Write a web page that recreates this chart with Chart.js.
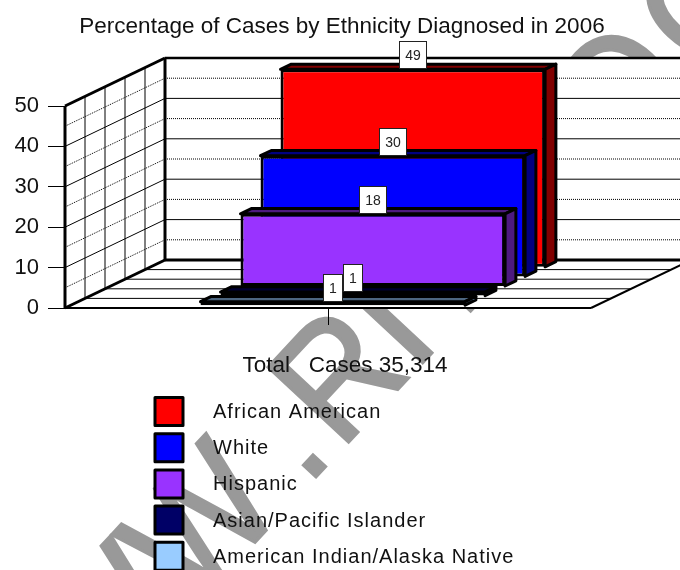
<!DOCTYPE html>
<html>
<head>
<meta charset="utf-8">
<title>Percentage of Cases by Ethnicity</title>
<script src="https://cdn.jsdelivr.net/npm/chart.js@4"></script>
<style>
  html, body { margin: 0; padding: 0; background: #fff; overflow: hidden; }
  canvas { display: block; }
</style>
</head>
<body>
<canvas id="chart" width="680" height="570"></canvas>
<script>
const titleText = 'Percentage of Cases by Ethnicity Diagnosed in 2006';
const categories = ['Total   Cases 35,314'];
const seriesNames = ['African American', 'White', 'Hispanic', 'Asian/Pacific Islander', 'American Indian/Alaska Native'];
const seriesValues = [49, 30, 18, 1, 1];
const yTicks = [0, 10, 20, 30, 40, 50];

const faceColors = ['#ff0000', '#0000ff', '#9933ff', '#000066', '#99ccff'];
const shadeColors = ['#800000', '#000080', '#4d1a80', '#000033', '#4d6680'];

const FONT = '"Liberation Sans", Arial, sans-serif';

// fake 3D: the plot box goes back 100px and up 48px, one slot per series
const WALL_DX = 100;
const WALL_DY = -48;
const SLOTS = seriesNames.length;
const BAR_START = 0.24;  // where the bar starts inside its slot
const BAR_DEPTH = 0.54;

function depth(slots) {
    const dx = slots * WALL_DX / SLOTS;
    return { dx: dx, dy: dx * WALL_DY / WALL_DX };
}

function poly(ctx, pts, fill, stroke, width) {
    ctx.beginPath();
    pts.forEach((p, i) => i ? ctx.lineTo(p[0], p[1]) : ctx.moveTo(p[0], p[1]));
    ctx.closePath();
    if (fill) { ctx.fillStyle = fill; ctx.fill(); }
    if (stroke) { ctx.strokeStyle = stroke; ctx.lineWidth = width; ctx.stroke(); }
}

function line(ctx, x1, y1, x2, y2, width, dash) {
    ctx.beginPath();
    ctx.setLineDash(dash || []);
    ctx.lineWidth = width;
    ctx.strokeStyle = '#000';
    ctx.moveTo(x1, y1);
    ctx.lineTo(x2, y2);
    ctx.stroke();
    ctx.setLineDash([]);
}

// grey rotated lettering behind everything; the middle letters sit behind the plot
// and can't be read, only their outer bits show. offsets are along / across the baseline
const watermarkPieces = [['WWW', -501, 0], ['.', -53, 0], ['RI', -4, 0], ['M', 175, 0], ['T', 297, 0], ['O', 390, 12], ['C', 516, 12]];

const watermark = {
    id: 'watermark',
    beforeDraw(chart) {
        const ctx = chart.ctx;
        ctx.save();
        ctx.translate(343, 448);
        ctx.rotate(-47 * Math.PI / 180);
        ctx.scale(1, 1.08);
        ctx.font = '148px ' + FONT;
        ctx.fillStyle = '#999999';
        ctx.strokeStyle = '#999999';
        ctx.lineWidth = 3;
        ctx.lineJoin = 'miter';
        ctx.textBaseline = 'alphabetic';
        ctx.textAlign = 'left';
        watermarkPieces.forEach(piece => {
            ctx.fillText(piece[0], piece[1], piece[2]);
            ctx.strokeText(piece[0], piece[1], piece[2]);
        });
        ctx.restore();
    }
};

const walls = {
    id: 'walls',
    beforeDatasetsDraw(chart) {
        const ctx = chart.ctx;
        const y = chart.scales.y;
        const a = chart.chartArea;
        const L = a.left, R = a.right;
        const y0 = y.getPixelForValue(0);
        const yMax = y.getPixelForValue(yTicks[yTicks.length - 1]);
        const dx = WALL_DX, dy = WALL_DY;

        ctx.save();
        ctx.lineJoin = 'miter';
        poly(ctx, [[L + dx, yMax + dy], [R + dx, yMax + dy], [R + dx, y0 + dy], [L + dx, y0 + dy]], '#fff');
        poly(ctx, [[L, yMax], [L + dx, yMax + dy], [L + dx, y0 + dy], [L, y0]], '#fff');
        poly(ctx, [[L, y0], [L + dx, y0 + dy], [R + dx, y0 + dy], [R, y0]], '#fff');

        // gridlines on back and side wall
        yTicks.forEach((t, i) => {
            const py = y.getPixelForValue(t);
            if (i > 0 && i < yTicks.length - 1) {
                line(ctx, L, py, L + dx, py + dy, 1);
                line(ctx, L + dx, py + dy, R + dx, py + dy, 1);
            }
            if (i < yTicks.length - 1) {
                const mid = y.getPixelForValue((t + yTicks[i + 1]) / 2);
                line(ctx, L, mid, L + dx, mid + dy, 1, [1, 1]);
                line(ctx, L + dx, mid + dy, R + dx, mid + dy, 1, [1, 1]);
            }
        });

        // slot lines on floor and side wall
        for (let s = 1; s < SLOTS; s++) {
            const d = depth(s);
            line(ctx, L + d.dx, yMax + d.dy, L + d.dx, y0 + d.dy, 1);
            line(ctx, L + d.dx, y0 + d.dy, R + d.dx, y0 + d.dy, 1);
        }

        // box edges
        line(ctx, L + dx, yMax + dy, R + dx, yMax + dy, 2.5);
        line(ctx, L + dx, yMax + dy, L + dx, y0 + dy, 3);
        line(ctx, L + dx, y0 + dy, R + dx, y0 + dy, 3);
        line(ctx, L, yMax, L + dx, yMax + dy, 3);
        line(ctx, L, yMax, L, y0, 3);
        line(ctx, L, y0, L + dx, y0 + dy, 3);
        line(ctx, L, y0, R, y0, 2);
        line(ctx, R, y0, R + dx, y0 + dy, 2);
        ctx.restore();
    }
};

// each bar is moved to its slot, the library then draws the front face there
const bars3d = {
    id: 'bars3d',
    beforeDatasetDraw(chart, args) {
        const ctx = chart.ctx;
        const i = args.index;
        const slot = depth(SLOTS - 1 - i + BAR_START);
        const side = depth(BAR_DEPTH);
        ctx.save();
        ctx.translate(slot.dx, slot.dy);
        ctx.lineJoin = 'round';
        args.meta.data.forEach(el => {
            const p = el.getProps(['x', 'y', 'base', 'width'], true);
            const l = p.x - p.width / 2, r = p.x + p.width / 2;
            poly(ctx, [[l, p.y], [l + side.dx, p.y + side.dy], [r + side.dx, p.y + side.dy], [r, p.y]], shadeColors[i], '#000', 3);
            poly(ctx, [[r, p.y], [r + side.dx, p.y + side.dy], [r + side.dx, p.base + side.dy], [r, p.base]], shadeColors[i], '#000', 3);
        });
    },
    afterDatasetDraw(chart) {
        chart.ctx.restore();
    },
    afterDatasetsDraw(chart) {
        const ctx = chart.ctx;
        ctx.save();
        ctx.font = '14px ' + FONT;
        ctx.textAlign = 'center';
        ctx.textBaseline = 'middle';
        seriesNames.forEach((name, i) => {
            const slot = depth(SLOTS - 1 - i + BAR_START);
            const el = chart.getDatasetMeta(i).data[0];
            const p = el.getProps(['x', 'y'], true);
            const text = String(seriesValues[i]);
            const w = Math.round(ctx.measureText(text).width + 11);
            const h = 27;
            const x = Math.round(p.x + slot.dx - w / 2 - 0.5) + 0.5;
            const y = Math.round(p.y + slot.dy - h - 1) + 0.5;
            ctx.fillStyle = '#fff';
            ctx.strokeStyle = '#222';
            ctx.lineWidth = 1;
            ctx.fillRect(x, y, w, h);
            ctx.strokeRect(x, y, w, h);
            ctx.fillStyle = '#222';
            ctx.fillText(text, x + w / 2, y + h / 2 + 1);
        });
        ctx.restore();
    }
};

// legend is a plain column below the plot and runs off the bottom of the page
const legendColumn = {
    id: 'legendColumn',
    afterDraw(chart) {
        const ctx = chart.ctx;
        ctx.save();
        ctx.font = '20px ' + FONT;
        ctx.letterSpacing = '1px';
        ctx.textBaseline = 'middle';
        ctx.textAlign = 'left';
        seriesNames.forEach((name, i) => {
            const top = 397.5 + i * 36.2;
            ctx.lineJoin = 'round';
            ctx.fillStyle = faceColors[i];
            ctx.strokeStyle = '#000';
            ctx.lineWidth = 3;
            ctx.fillRect(155, top, 28, 28);
            ctx.strokeRect(155, top, 28, 28);
            ctx.fillStyle = '#111';
            ctx.fillText(name, 213, top + 15);
        });
        ctx.restore();
    }
};

new Chart(document.getElementById('chart'), {
    type: 'bar',
    data: {
        labels: categories,
        datasets: seriesNames.map((name, i) => ({
            label: name,
            data: [seriesValues[i]],
            backgroundColor: faceColors[i],
            borderColor: '#000',
            borderWidth: 3,
            borderSkipped: false,
            clip: false,
            order: SLOTS - i
        }))
    },
    plugins: [watermark, walls, bars3d, legendColumn],
    options: {
        responsive: false,
        animation: false,
        events: [],
        layout: { padding: { left: 4 } },
        datasets: { bar: { grouped: false, barPercentage: 0.503, categoryPercentage: 1 } },
        plugins: {
            legend: { display: false },
            tooltip: { enabled: false },
            title: {
                display: true,
                text: titleText,
                color: '#111',
                font: { family: FONT, size: 22.5, weight: 'normal', lineHeight: 1.2 },
                padding: { top: 13.5, bottom: 65.5 }
            }
        },
        scales: {
            x: {
                afterFit(scale) { scale.height = 262; },
                border: { display: false },
                grid: { offset: false, drawOnChartArea: false, drawTicks: true, tickLength: 17, color: '#000' },
                ticks: {
                    color: '#111',
                    font: { family: FONT, size: 22.5 },
                    padding: 27,
                    labelOffset: 17,
                    maxRotation: 0,
                    autoSkip: false
                }
            },
            y: {
                min: yTicks[0],
                max: yTicks[yTicks.length - 1],
                afterFit(scale) { scale.width = 61; },
                border: { display: false },
                grid: { drawOnChartArea: false, drawTicks: true, tickLength: 17, color: '#000' },
                ticks: {
                    stepSize: 10,
                    color: '#111',
                    font: { family: FONT, size: 22 },
                    padding: 9
                }
            },
            // empty axis, only keeps the plot 89px from the right edge so the title stays centred on the page
            spacer: {
                position: 'right',
                afterFit(scale) { scale.width = 89; },
                border: { display: false },
                grid: { display: false },
                ticks: { display: false }
            }
        }
    }
});
</script>
</body>
</html>
